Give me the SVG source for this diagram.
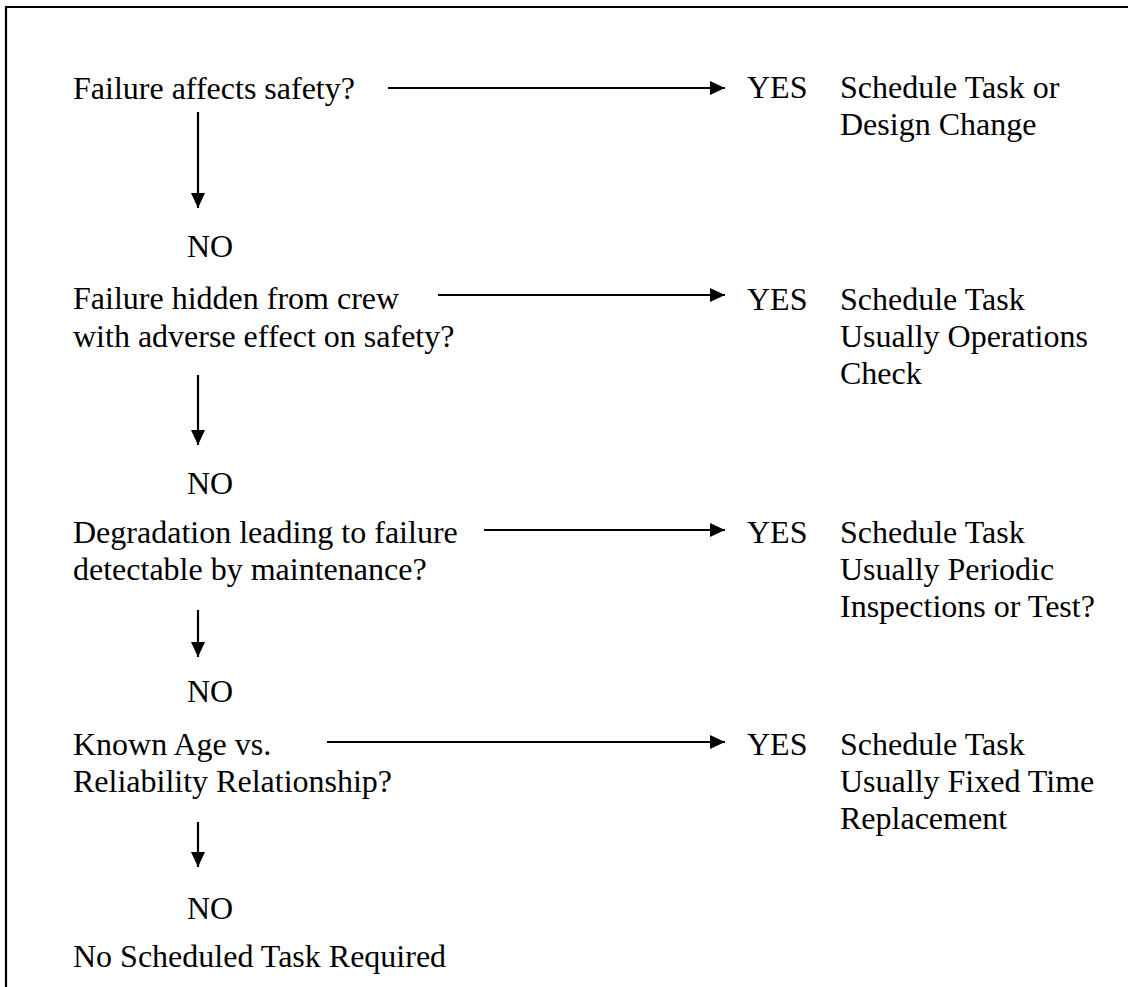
<svg xmlns="http://www.w3.org/2000/svg" width="1128" height="987" viewBox="0 0 1128 987">
<style>
text{font-family:"Liberation Serif","Times New Roman",serif;font-size:32px;fill:#000}
.ln{stroke:#000;stroke-width:2.2;fill:none}
.frame{stroke:#000;stroke-width:2.2;fill:none}
</style>
<defs>
<marker id="ah" viewBox="0 0 15 14" refX="15" refY="7" markerWidth="15" markerHeight="14" markerUnits="userSpaceOnUse" orient="auto">
<path d="M0,0 L15,7 L0,14 Z" fill="#000"/>
</marker>
</defs>
<rect width="1128" height="987" fill="#fff"/>
<path class="frame" d="M6,987 V7 H1128"/>
<g id="q1"><text x="73" y="99">Failure affects safety?</text></g>
<g id="y1"><text x="747" y="98">YES</text></g>
<g id="r1"><text x="840" y="98">Schedule Task or</text><text x="840" y="135">Design Change</text></g>
<g id="n1"><text x="187" y="257">NO</text></g>
<g id="q2"><text x="73" y="309">Failure hidden from crew</text><text x="73" y="347">with adverse effect on safety?</text></g>
<g id="y2"><text x="747" y="310">YES</text></g>
<g id="r2"><text x="840" y="310">Schedule Task</text><text x="840" y="347">Usually Operations</text><text x="840" y="384">Check</text></g>
<g id="n2"><text x="187" y="494">NO</text></g>
<g id="q3"><text x="73" y="543">Degradation leading to failure</text><text x="73" y="580">detectable by maintenance?</text></g>
<g id="y3"><text x="747" y="543">YES</text></g>
<g id="r3"><text x="840" y="543">Schedule Task</text><text x="840" y="580">Usually Periodic</text><text x="840" y="617">Inspections or Test?</text></g>
<g id="n3"><text x="187" y="702">NO</text></g>
<g id="q4"><text x="73" y="755">Known Age vs.</text><text x="73" y="792">Reliability Relationship?</text></g>
<g id="y4"><text x="747" y="755">YES</text></g>
<g id="r4"><text x="840" y="755">Schedule Task</text><text x="840" y="792">Usually Fixed Time</text><text x="840" y="829">Replacement</text></g>
<g id="n4"><text x="187" y="919">NO</text></g>
<g id="end"><text x="73" y="967">No Scheduled Task Required</text></g>
<g id="connectors">
<line class="ln" x1="388" y1="88" x2="725" y2="88" marker-end="url(#ah)"/>
<line class="ln" x1="438" y1="295" x2="725" y2="295" marker-end="url(#ah)"/>
<line class="ln" x1="484" y1="530" x2="725" y2="530" marker-end="url(#ah)"/>
<line class="ln" x1="327" y1="742" x2="725" y2="742" marker-end="url(#ah)"/>
<line class="ln" x1="198" y1="112" x2="198" y2="208" marker-end="url(#ah)"/>
<line class="ln" x1="198" y1="375" x2="198" y2="445" marker-end="url(#ah)"/>
<line class="ln" x1="198" y1="610" x2="198" y2="657" marker-end="url(#ah)"/>
<line class="ln" x1="198" y1="822" x2="198" y2="867" marker-end="url(#ah)"/>
</g>
</svg>
